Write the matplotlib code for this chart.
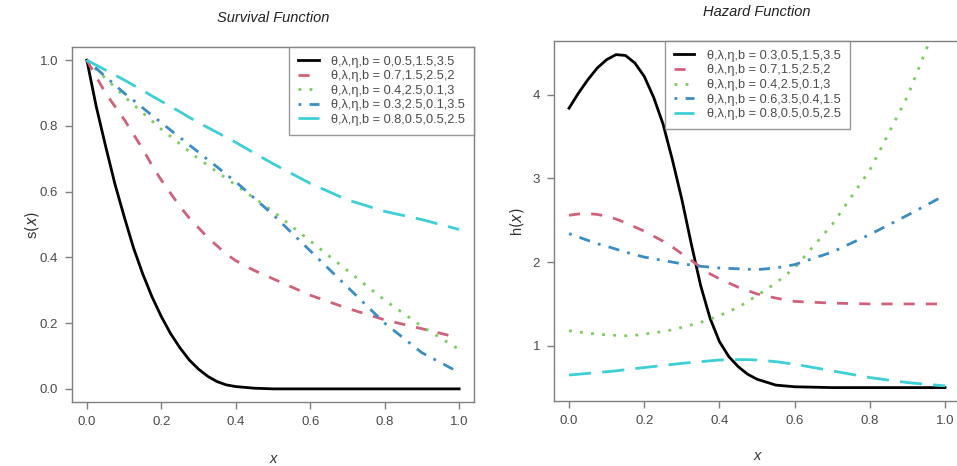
import numpy as np
import matplotlib
matplotlib.use("Agg")
import matplotlib.pyplot as plt

plt.rcParams["font.family"] = ["Liberation Sans", "DejaVu Sans"]

# survival function values
x_surv = [0.0, 0.025, 0.05, 0.075, 0.1, 0.125, 0.15, 0.175, 0.2, 0.225, 0.25, 0.275, 0.3,
          0.325, 0.35, 0.375, 0.4, 0.45, 0.5, 0.6, 0.7, 0.8, 0.9, 1.0]
s_black = [1.0, 0.86, 0.74, 0.625, 0.525, 0.43, 0.35, 0.28, 0.22, 0.168, 0.125, 0.088, 0.06,
           0.038, 0.022, 0.012, 0.007, 0.002, 0.0, 0.0, 0.0, 0.0, 0.0, 0.0]
s_red = [1.0, 0.95, 0.90, 0.86, 0.82, 0.775, 0.73, 0.68, 0.635, 0.595, 0.555, 0.52, 0.49,
         0.46, 0.435, 0.41, 0.39, 0.36, 0.335, 0.285, 0.245, 0.21, 0.183, 0.155]
s_green = [1.0, 0.972, 0.945, 0.918, 0.89, 0.865, 0.84, 0.815, 0.79, 0.768, 0.745, 0.722, 0.70,
           0.68, 0.66, 0.64, 0.62, 0.58, 0.54, 0.45, 0.36, 0.27, 0.19, 0.12]
s_blue = [1.0, 0.975, 0.95, 0.925, 0.90, 0.878, 0.855, 0.832, 0.81, 0.787, 0.765, 0.742, 0.72,
          0.697, 0.675, 0.652, 0.63, 0.58, 0.53, 0.42, 0.31, 0.20, 0.11, 0.05]
s_cyan = [1.0, 0.985, 0.97, 0.955, 0.94, 0.924, 0.908, 0.891, 0.875, 0.859, 0.843, 0.826, 0.81,
          0.795, 0.78, 0.765, 0.75, 0.717, 0.685, 0.625, 0.575, 0.54, 0.515, 0.485]

surv_labels = [
    "θ,λ,η,b = 0,0.5,1.5,3.5",
    "θ,λ,η,b = 0.7,1.5,2.5,2",
    "θ,λ,η,b = 0.4,2.5,0.1,3",
    "θ,λ,η,b = 0.3,2.5,0.1,3.5",
    "θ,λ,η,b = 0.8,0.5,0.5,2.5",
]

# hazard function values
x_haz = [0.0, 0.025, 0.05, 0.075, 0.1, 0.125, 0.15, 0.175, 0.2, 0.225, 0.25, 0.275, 0.3,
         0.325, 0.35, 0.375, 0.4, 0.425, 0.45, 0.475, 0.5, 0.55, 0.6, 0.7, 0.8, 0.9, 1.0]
h_black = [3.84, 4.02, 4.18, 4.32, 4.42, 4.48, 4.47, 4.38, 4.22, 3.97, 3.65, 3.22, 2.75,
           2.22, 1.72, 1.33, 1.05, 0.87, 0.75, 0.66, 0.60, 0.53, 0.51, 0.50, 0.50, 0.50, 0.50]
h_red = [2.56, 2.575, 2.58, 2.57, 2.55, 2.515, 2.47, 2.42, 2.37, 2.31, 2.25, 2.18, 2.10,
         2.02, 1.94, 1.86, 1.80, 1.75, 1.70, 1.66, 1.62, 1.57, 1.53, 1.51, 1.50, 1.50, 1.50]
h_green = [1.18, 1.165, 1.15, 1.14, 1.13, 1.125, 1.12, 1.125, 1.14, 1.155, 1.17, 1.19, 1.22,
           1.25, 1.28, 1.32, 1.36, 1.41, 1.46, 1.53, 1.60, 1.75, 1.93, 2.45, 3.10, 3.98, 5.10]
h_blue = [2.34, 2.30, 2.26, 2.22, 2.19, 2.155, 2.12, 2.09, 2.06, 2.04, 2.02, 2.00, 1.98,
          1.965, 1.95, 1.94, 1.93, 1.925, 1.92, 1.915, 1.91, 1.93, 1.97, 2.12, 2.33, 2.56, 2.80]
h_cyan = [0.65, 0.66, 0.67, 0.68, 0.69, 0.70, 0.715, 0.727, 0.74, 0.752, 0.765, 0.777, 0.79,
          0.80, 0.81, 0.82, 0.83, 0.833, 0.835, 0.834, 0.83, 0.81, 0.78, 0.70, 0.62, 0.56, 0.52]

haz_labels = [
    "θ,λ,η,b = 0.3,0.5,1.5,3.5",
    "θ,λ,η,b = 0.7,1.5,2.5,2",
    "θ,λ,η,b = 0.4,2.5,0.1,3",
    "θ,λ,η,b = 0.6,3.5,0.4,1.5",
    "θ,λ,η,b = 0.8,0.5,0.5,2.5",
]

colors = ["#000000", "#D0617A", "#7CCB5E", "#3A8DC4", "#3CCFD6"]
styles = ["-", (0, (4, 4)), (0, (1, 3)), (0, (1, 3, 4, 3)), (0, (8, 4))]

gray = "#7f7f7f"
txt = "#4a4a4a"


def style_axes(ax):
    for sp in ax.spines.values():
        sp.set_color(gray)
        sp.set_linewidth(1.0)
    ax.tick_params(direction="out", length=5, width=1.0, color=gray,
                   labelcolor=txt, labelsize=9.5, pad=5)


def add_legend(ax, anchor, loc):
    leg = ax.legend(loc=loc, bbox_to_anchor=anchor, fontsize=9.2,
                    frameon=True, fancybox=False, edgecolor=gray, borderpad=0.68,
                    labelspacing=0.2, handlelength=1.6, handletextpad=1.0,
                    borderaxespad=0.0)
    leg.get_frame().set_linewidth(1.0)
    for t in leg.get_texts():
        t.set_color(txt)
    return leg


fig = plt.figure(figsize=(9.57, 4.66), dpi=100)

# left panel: survival
ax1 = fig.add_axes([0.0752, 0.1373, 0.4201, 0.7618])
for y, c, ls, lab in zip([s_black, s_red, s_green, s_blue, s_cyan], colors, styles, surv_labels):
    ax1.plot(x_surv, y, color=c, linestyle=ls, linewidth=2, label=lab)
ax1.set_xlim(-0.04, 1.04)
ax1.set_ylim(-0.04, 1.04)
ax1.set_xticks([0.0, 0.2, 0.4, 0.6, 0.8, 1.0])
ax1.set_yticks([0.0, 0.2, 0.4, 0.6, 0.8, 1.0])
ax1.set_xticklabels(["0.0", "0.2", "0.4", "0.6", "0.8", "1.0"])
ax1.set_yticklabels(["0.0", "0.2", "0.4", "0.6", "0.8", "1.0"])
style_axes(ax1)
ax1.set_title("Survival Function", style="italic", fontsize=10.5, color="#222222", pad=18)
ax1.set_ylabel(r"s$(\mathit{x})$", fontsize=10.5, color="#333333", labelpad=-1)
ax1.set_xlabel("x", style="italic", fontsize=10.5, color="#333333", labelpad=17)
add_legend(ax1, (1.0, 1.0), "upper right")

# right panel: hazard (cut off by the image edge on the right)
ax2 = fig.add_axes([0.5789, 0.1395, 0.4243, 0.772])
for y, c, ls, lab in zip([h_black, h_red, h_green, h_blue, h_cyan], colors, styles, haz_labels):
    ax2.plot(x_haz, y, color=c, linestyle=ls, linewidth=2, label=lab)
ax2.set_xlim(-0.04, 1.04)
ax2.set_ylim(0.34, 4.64)
ax2.set_xticks([0.0, 0.2, 0.4, 0.6, 0.8, 1.0])
ax2.set_yticks([1, 2, 3, 4])
ax2.set_xticklabels(["0.0", "0.2", "0.4", "0.6", "0.8", "1.0"])
style_axes(ax2)
ax2.set_title("Hazard Function", style="italic", fontsize=10.5, color="#222222", pad=18.5)
ax2.set_ylabel(r"h$(\mathit{x})$", fontsize=10.5, color="#333333", labelpad=5)
ax2.set_xlabel("x", style="italic", fontsize=10.5, color="#333333", labelpad=16)
add_legend(ax2, (0.274, 1.0), "upper left")

fig.savefig("out.png", dpi=100, facecolor="white")
